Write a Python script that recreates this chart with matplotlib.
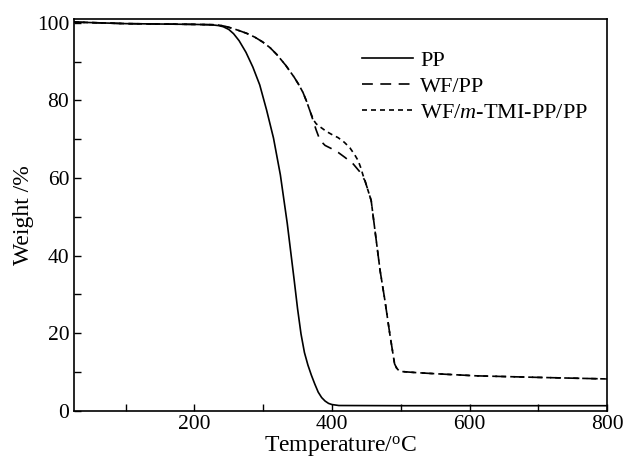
import matplotlib
matplotlib.use("Agg")
import matplotlib.pyplot as plt
from matplotlib.ticker import MultipleLocator

plt.rcParams['font.family'] = ['Liberation Serif', 'DejaVu Serif']
plt.rcParams['mathtext.fontset'] = 'custom'
plt.rcParams['mathtext.rm'] = 'Liberation Serif'
plt.rcParams['mathtext.it'] = 'Liberation Serif:italic'

pp_x = [25, 100, 200, 225, 235, 242, 250, 257, 265, 275, 285, 295, 305, 315, 325, 335,
        345, 350, 355, 360, 365, 370, 375, 380, 385, 390, 395, 400, 410, 500, 600, 700, 800]
pp_y = [100.2, 99.8, 99.6, 99.5, 99.3, 99.0, 98.3, 97.2, 95.4, 92.4, 88.6, 84.0, 77.5, 70.3, 60.8, 48.3,
        33.8, 26.3, 19.8, 15.0, 11.8, 9.2, 6.9, 4.8, 3.4, 2.5, 1.9, 1.6, 1.35, 1.3, 1.3, 1.3, 1.3]

wf_x = [25, 100, 200, 233, 245, 255, 265, 276, 288, 299, 310, 320, 333, 345, 352, 358, 363, 368, 373,
        377, 381, 385, 390, 399, 409, 419, 431, 440, 448, 457, 462, 470, 477, 484, 491, 494, 497, 502,
        525, 555, 610, 700, 800]
wf_y = [100.2, 99.8, 99.6, 99.5, 99.1, 98.6, 98.0, 97.3, 96.3, 95.1, 93.6, 91.8, 89.0, 86.0, 84.0, 82.0, 79.8, 77.3, 74.6,
        72.4, 70.5, 69.3, 68.4, 67.6, 66.6, 65.3, 63.6, 61.7, 59.3, 54.2, 47.2, 36.1, 28.4, 19.9, 12.1, 11.0, 10.4, 10.1,
        9.8, 9.5, 9.0, 8.6, 8.2]

tmi_x = [25, 100, 200, 233, 245, 255, 265, 276, 288, 299, 310, 320, 333, 345, 352, 358, 363, 368, 373,
         377, 381, 385, 392, 400, 409, 418, 426, 433, 438, 442, 445, 448, 457, 462, 470, 477, 484, 491, 494, 497, 502,
         525, 555, 610, 700, 800]
tmi_y = [100.2, 99.8, 99.6, 99.5, 99.1, 98.6, 98.0, 97.3, 96.3, 95.1, 93.6, 91.8, 89.0, 86.0, 84.0, 82.0, 79.8, 77.3, 75.0,
         74.0, 73.4, 72.9, 72.0, 71.2, 70.4, 69.2, 67.8, 66.0, 64.5, 62.6, 60.8, 59.3, 54.2, 47.2, 36.1, 28.4, 19.9, 12.1, 11.0, 10.4, 10.1,
         9.8, 9.5, 9.0, 8.6, 8.2]

labels = ['PP', 'WF/PP', 'WF/$m$-TMI-PP/PP']

fig = plt.figure(figsize=(6.25, 4.61), dpi=100)
ax = fig.add_axes([0.1184, 0.109, 0.853, 0.849])
ax.plot(pp_x, pp_y, color='black', lw=1.2, linestyle='-', label=labels[0])
ax.plot(wf_x, wf_y, color='black', lw=1.2, linestyle=(0, (6.5, 4.5)), label=labels[1])
ax.plot(tmi_x, tmi_y, color='black', lw=1.2, linestyle=(0, (3, 2.4)), label=labels[2])

ax.set_xlim(25, 800)
ax.set_ylim(0, 100.9)
ax.xaxis.set_major_locator(MultipleLocator(200))
ax.xaxis.set_minor_locator(MultipleLocator(100))
ax.yaxis.set_major_locator(MultipleLocator(20))
ax.yaxis.set_minor_locator(MultipleLocator(10))
ax.tick_params(which='both', direction='in', top=False, right=False, labelsize=15.5, width=1)
ax.tick_params(which='major', length=5)
ax.tick_params(which='minor', length=5)
ax.tick_params(axis='x', pad=3)
for s in ax.spines.values():
    s.set_linewidth(1.2)

ax.set_xlabel('Temperature/$^{\\mathrm{o}}$C', fontsize=17, labelpad=0)
ax.set_ylabel('Weight /%', fontsize=17, labelpad=2)

ax.legend(loc='upper left', bbox_to_anchor=(0.52, 0.95), frameon=False, fontsize=16,
          handlelength=2.3, handletextpad=0.3, labelspacing=0.25, borderpad=0)

fig.savefig('out.png', dpi=100)
